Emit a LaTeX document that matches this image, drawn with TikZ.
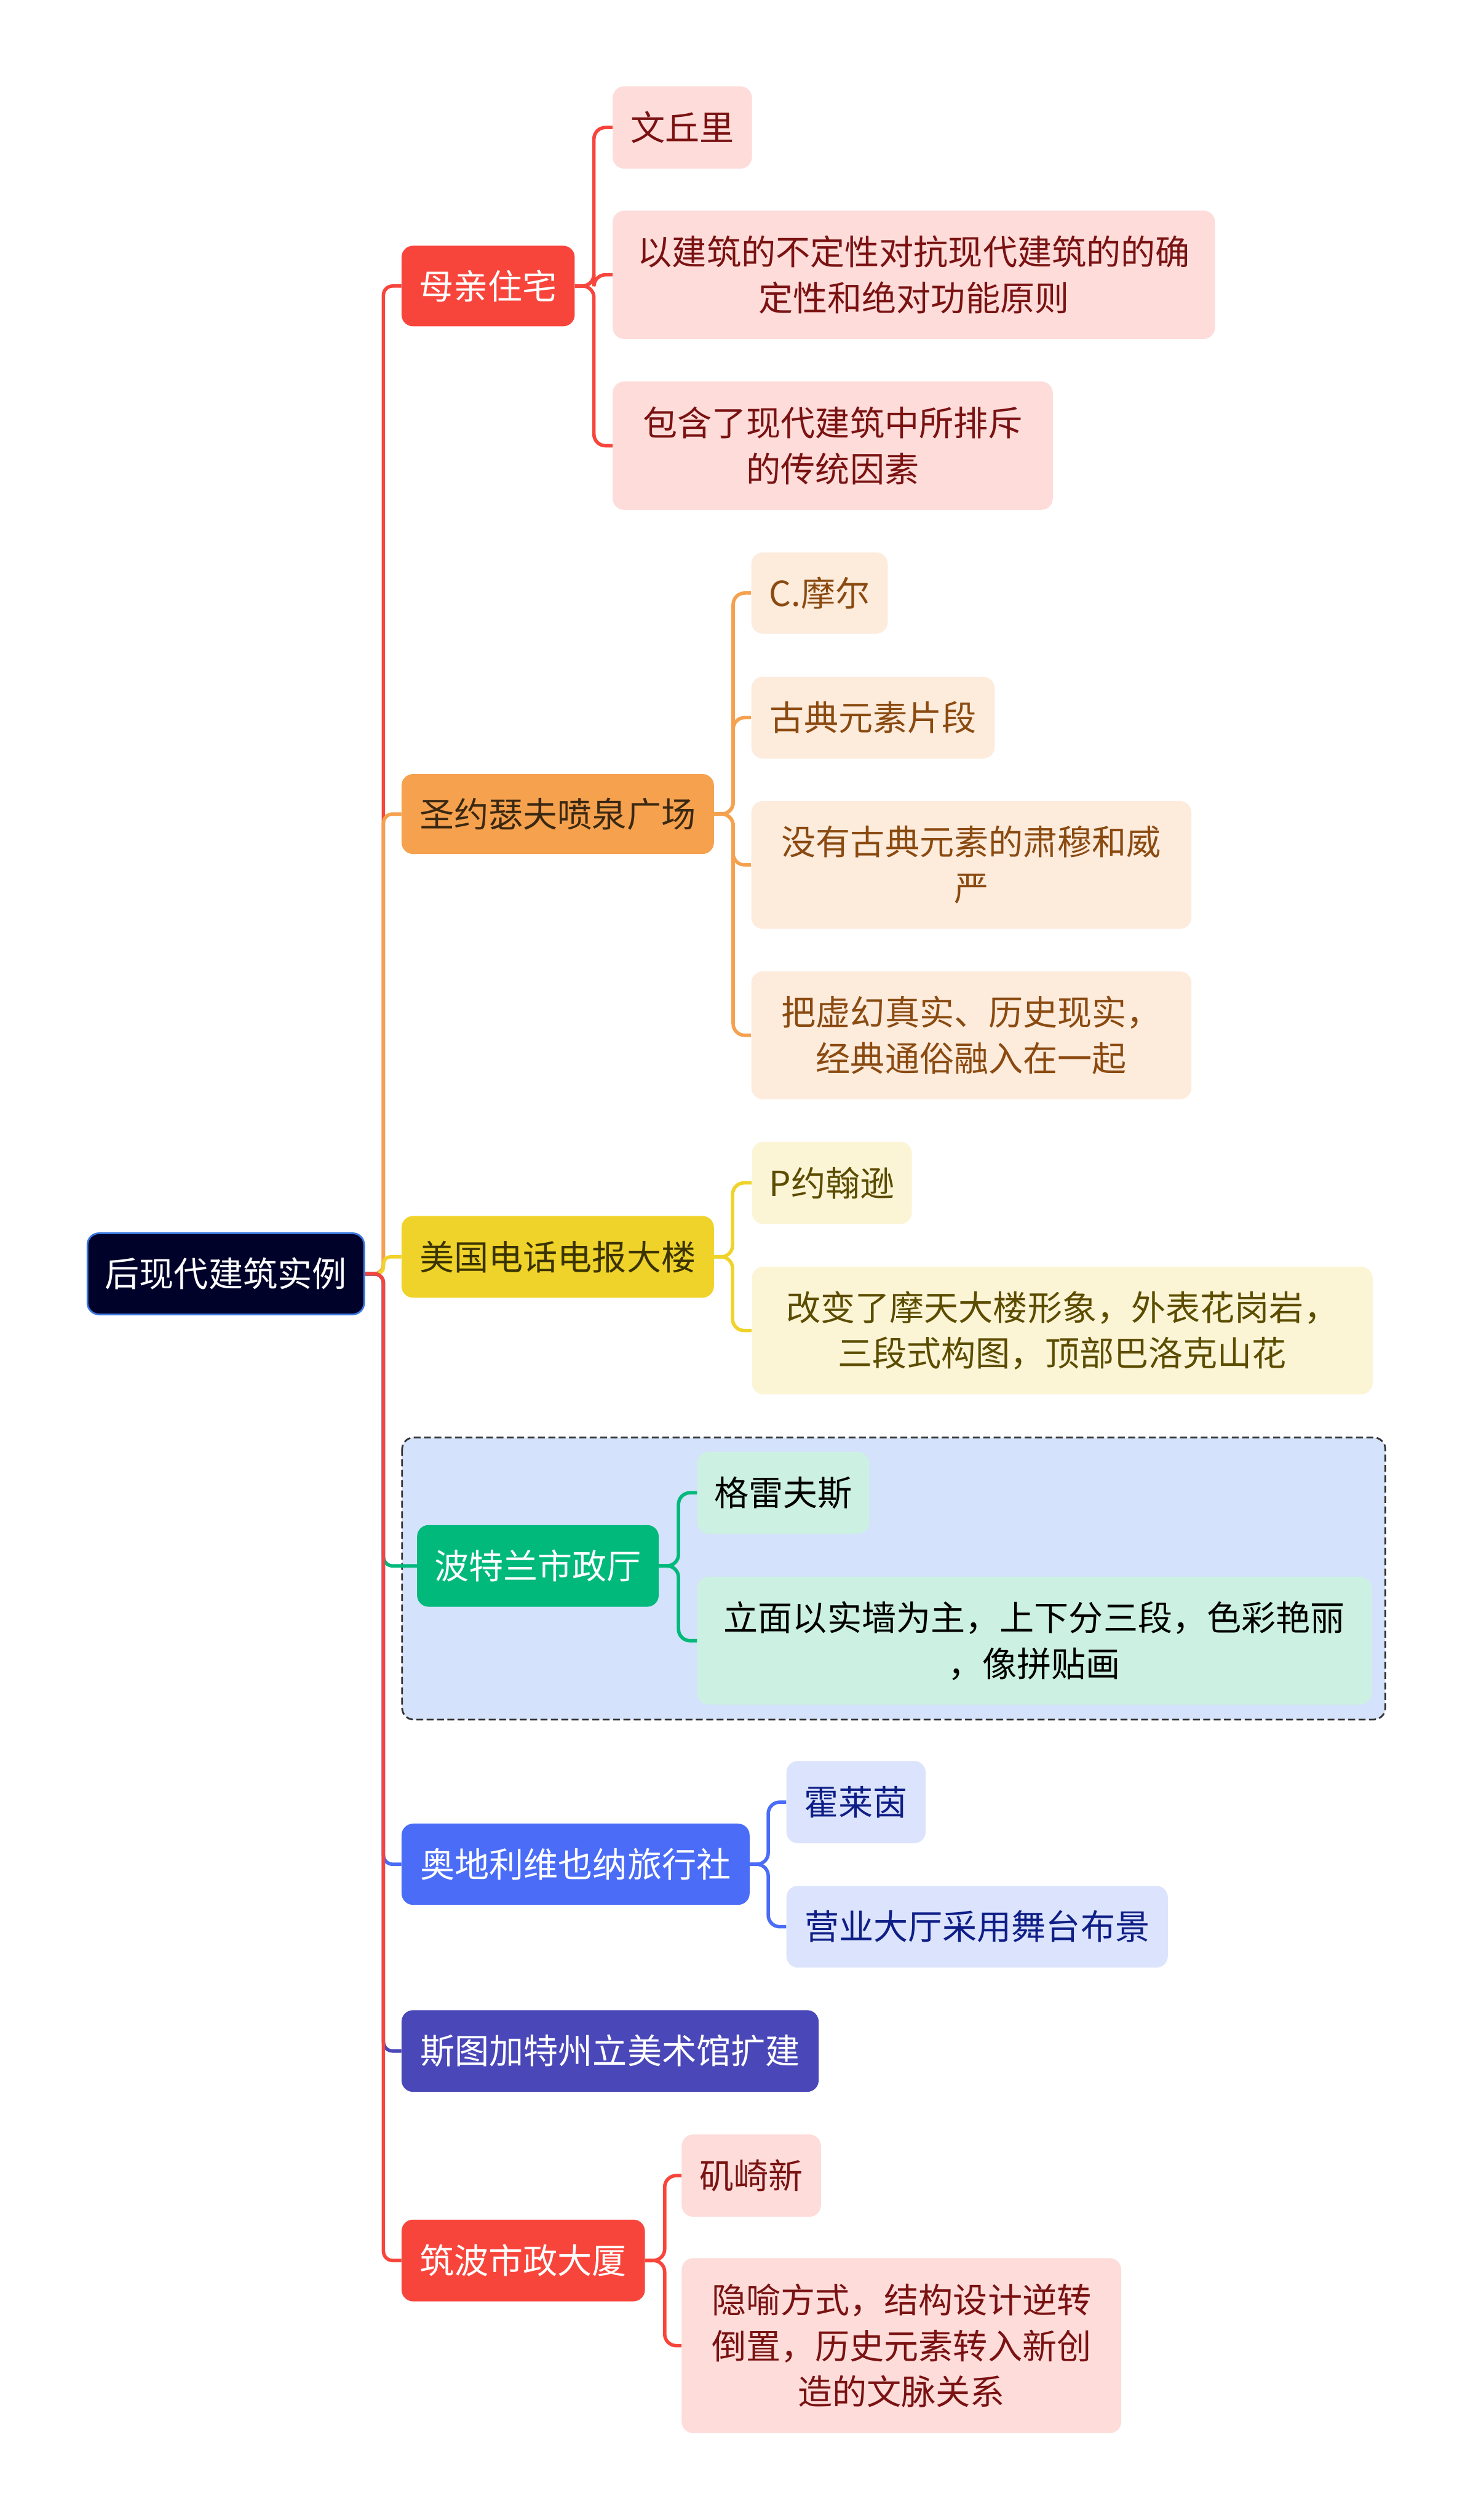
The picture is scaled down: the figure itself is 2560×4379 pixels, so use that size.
\documentclass[tikz,border=0pt]{standalone}
\usepackage{fontspec}
\usetikzlibrary{backgrounds}
\newfontfamily\cjk{Noto Sans CJK SC}
\definecolor{cRed}{HTML}{F8453C}
\definecolor{cRedK}{HTML}{FDDCDA}
\definecolor{cRedT}{HTML}{7A1212}
\definecolor{cOra}{HTML}{F5A14E}
\definecolor{cOraK}{HTML}{FDEBDC}
\definecolor{cOraT}{HTML}{8A4A10}
\definecolor{cOraH}{HTML}{3A2812}
\definecolor{cYel}{HTML}{F0D32A}
\definecolor{cYelK}{HTML}{FBF5D6}
\definecolor{cYelT}{HTML}{5C4C00}
\definecolor{cYelH}{HTML}{3A3300}
\definecolor{cGrn}{HTML}{00B97B}
\definecolor{cGrnK}{HTML}{CCF1E2}
\definecolor{cBg}{HTML}{D4E2FB}
\definecolor{cBlu}{HTML}{4A6CF7}
\definecolor{cBluK}{HTML}{DCE3FC}
\definecolor{cBluT}{HTML}{0E1E86}
\definecolor{cPur}{HTML}{4A47B9}
\definecolor{cRoot}{HTML}{00022A}
\definecolor{cRootB}{HTML}{3A78E0}
\tikzset{
  box/.style={rectangle, rounded corners=10pt, inner sep=0pt, align=center,
    font=\cjk\fontsize{30}{40}\selectfont},
  rootbox/.style={box, fill=cRoot, draw=cRootB, line width=1.5pt, text=white},
  redbox/.style={box, fill=cRed, text=white},
  redkid/.style={box, fill=cRedK, text=cRedT},
  orabox/.style={box, fill=cOra, text=cOraH},
  orakid/.style={box, fill=cOraK, text=cOraT},
  yelbox/.style={box, fill=cYel, text=cYelH},
  yelkid/.style={box, fill=cYelK, text=cYelT},
  grnbox/.style={box, fill=cGrn, text=white},
  grnkid/.style={box, fill=cGrnK, text=black},
  blubox/.style={box, fill=cBlu, text=white},
  blukid/.style={box, fill=cBluK, text=cBluT},
  purbox/.style={box, fill=cPur, text=white},
  con/.style={line width=3pt, rounded corners=10pt},
  trunk/.style={line width=3pt, rounded corners=8pt},
}
\newcommand{\mmnode}[7]{%
  \pgfmathsetmacro\mmw{(#5-#3)*0.5}%
  \pgfmathsetmacro\mmh{(#6-#4)*0.5}%
  \node[#2, minimum width=\mmw pt, minimum height=\mmh pt] (#1) at ({(#3+#5)/2},{(#4+#6)/2}) {#7};}
\begin{document}
\begin{tikzpicture}[x=0.5pt,y=-0.5pt]
\useasboundingbox (0,0) rectangle (2560,4379);
% nodes
\mmnode{root}{rootbox}{152}{2143}{633}{2284}{后现代建筑实例}
\mmnode{a}{redbox}{698}{427}{999}{567}{母亲住宅}
\mmnode{a1}{redkid}{1065}{150}{1307}{293}{文丘里}
\mmnode{a2}{redkid}{1065}{366}{2112}{589}{以建筑的不定性对抗现代建筑的的确\\定性和绝对功能原则}
\mmnode{a3}{redkid}{1065}{663}{1830}{886}{包含了现代建筑中所排斥\\的传统因素}
\mmnode{b}{orabox}{698}{1345}{1241}{1484}{圣约瑟夫喷泉广场}
\mmnode{b1}{orakid}{1306}{960}{1543}{1101}{C.摩尔}
\mmnode{b2}{orakid}{1306}{1176}{1729}{1318}{古典元素片段}
\mmnode{b3}{orakid}{1306}{1392}{2071}{1614}{没有古典元素的肃穆和威\\严}
\mmnode{b4}{orakid}{1306}{1688}{2071}{1910}{把虚幻真实、历史现实，\\经典通俗融入在一起}
\mmnode{c}{yelbox}{698}{2113}{1241}{2255}{美国电话电报大楼}
\mmnode{c1}{yelkid}{1307}{1984}{1585}{2127}{P约翰逊}
\mmnode{c2}{yelkid}{1307}{2201}{2386}{2423}{改变了摩天大楼形象，外表花岗岩，\\三段式构图，顶部巴洛克山花}
\mmnode{d}{grnbox}{725}{2650}{1145}{2792}{波特兰市政厅}
\mmnode{d1}{grnkid}{1212}{2523}{1511}{2665}{格雷夫斯}
\mmnode{d2}{grnkid}{1212}{2740}{2384}{2962}{立面以实墙为主，上下分三段，色彩艳丽\\，像拼贴画}
\mmnode{e}{blubox}{698}{3169}{1303}{3310}{奥地利维也纳旅行社}
\mmnode{e1}{blukid}{1367}{3060}{1609}{3203}{霍莱茵}
\mmnode{e2}{blukid}{1367}{3277}{2030}{3419}{营业大厅采用舞台布景}
\mmnode{f}{purbox}{698}{3493}{1423}{3635}{斯图加特州立美术馆扩建}
\mmnode{g}{redbox}{698}{3857}{1121}{3999}{筑波市政大厦}
\mmnode{g1}{redkid}{1185}{3709}{1427}{3852}{矶崎新}
\mmnode{g2}{redkid}{1185}{3924}{1949}{4228}{隐喻方式，结构设计逆转\\倒置，历史元素转入新创\\造的文脉关系}
\begin{scope}[on background layer]
\fill[white] (0,0) rectangle (2560,4379);
% dashed summary box
\filldraw[fill=cBg, draw=black!80, line width=1.5pt, dash pattern=on 6pt off 3pt, rounded corners=10pt] (699,2498) rectangle (2408,2988);
% trunk
\draw[trunk, cRed] (root.east) -- ++(32,0) |- (a.west);
\draw[trunk, cOra] (root.east) -- ++(32,0) |- (b.west);
\draw[trunk, cYel, rounded corners=6pt] (root.east) -- ++(32,0) |- (c.west);
\draw[trunk, cGrn] (root.east) -- ++(32,0) |- (d.west);
\draw[trunk, cBlu] (root.east) -- ++(32,0) |- (e.west);
\draw[trunk, cPur] (root.east) -- ++(32,0) |- (f.west);
\draw[trunk, cRed] (root.east) -- ++(32,0) |- (g.west);
% branches
\foreach \k in {a1,a2,a3} \draw[con, cRed] (a.east) -- ++(33,0) |- (\k.west);
\foreach \k in {b1,b2,b3,b4} \draw[con, cOra] (b.east) -- ++(33,0) |- (\k.west);
\foreach \k in {c1,c2} \draw[con, cYel] (c.east) -- ++(32,0) |- (\k.west);
\foreach \k in {d1,d2} \draw[con, cGrn] (d.east) -- ++(34,0) |- (\k.west);
\foreach \k in {e1,e2} \draw[con, cBlu] (e.east) -- ++(32,0) |- (\k.west);
\foreach \k in {g1,g2} \draw[con, cRed] (g.east) -- ++(34,0) |- (\k.west);
\end{scope}
\end{tikzpicture}
\end{document}
